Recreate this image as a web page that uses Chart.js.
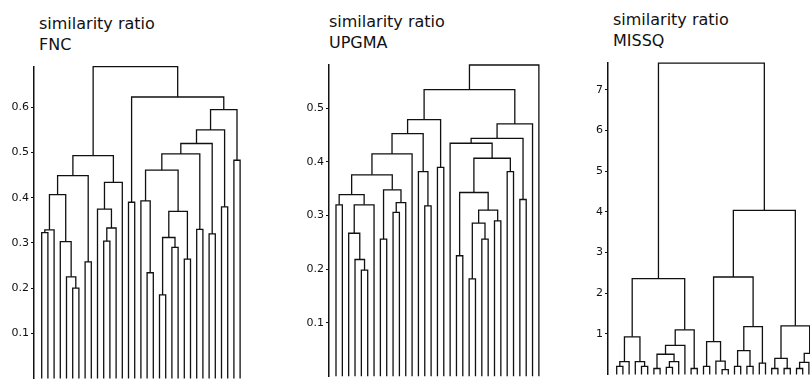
<!DOCTYPE html>
<html>
<head>
<meta charset="utf-8">
<script src="https://cdn.jsdelivr.net/npm/chart.js@4.4.0/dist/chart.umd.min.js"></script>
<style>
    html, body { margin: 0; padding: 0; background: #fff; overflow: hidden; }
    #page { position: relative; width: 810px; height: 383px; overflow: hidden; }
    #page canvas { position: absolute; top: 0; }
    .title { position: absolute; font: 16px 'DejaVu Sans', sans-serif; line-height: 21px; color: #111; white-space: nowrap; }
</style>
</head>
<body>
<div id="page"></div>
<script>
// leaves are numbered 0..32 left to right, merge k creates node 33 + k
const LEAF_COUNT = 33;

const fncPairs = [[0,1],[33,2],[5,6],[4,35],[3,36],[34,37],[7,8],[38,39],
    [10,11],[41,12],[9,42],[43,13],[40,44],[14,15],[17,18],[16,47],
    [19,20],[21,22],[49,50],[23,24],[51,52],[48,53],[25,26],[54,55],
    [27,28],[56,57],[29,30],[58,59],[31,32],[60,61],[46,62],[45,63]];
const fncHeights = [0.323,0.329,0.2,0.225,0.303,0.407,0.258,0.449,
    0.304,0.333,0.375,0.434,0.493,0.39,0.234,0.393,
    0.185,0.29,0.312,0.264,0.37,0.461,0.33,0.497,
    0.32,0.52,0.38,0.55,0.483,0.595,0.623,0.69];
const fncTicks = [0.1, 0.2, 0.3, 0.4, 0.5, 0.6];

const upgmaPairs = [[0,1],[4,5],[3,34],[2,35],[36,6],[33,37],[7,8],[9,10],
    [40,11],[39,41],[38,42],[43,12],[14,15],[13,45],[44,46],[16,17],
    [47,48],[21,22],[23,24],[50,51],[25,26],[52,53],[19,20],[55,54],
    [27,28],[56,57],[18,58],[29,30],[59,60],[61,31],[49,62],[63,32]];
const upgmaHeights = [0.32,0.198,0.218,0.267,0.32,0.339,0.256,0.306,
    0.324,0.348,0.376,0.415,0.318,0.382,0.453,0.39,
    0.479,0.182,0.256,0.286,0.29,0.31,0.225,0.343,
    0.382,0.407,0.435,0.33,0.444,0.471,0.535,0.581];
const upgmaTicks = [0.1, 0.2, 0.3, 0.4, 0.5];

const missqPairs = [[0,1],[33,2],[4,5],[3,35],[34,36],[6,7],[8,9],[39,10],
    [38,40],[41,11],[12,13],[42,43],[37,44],[14,15],[17,18],[16,47],
    [46,48],[19,20],[21,22],[50,51],[23,24],[52,53],[49,54],[25,26],
    [27,28],[56,57],[29,30],[59,31],[60,32],[58,61],[55,62],[45,63]];
const missqHeights = [0.2,0.32,0.2,0.32,0.93,0.15,0.18,0.32,
    0.5,0.72,0.15,1.1,2.36,0.2,0.12,0.33,
    0.81,0.2,0.2,0.59,0.28,1.18,2.4,0.15,
    0.15,0.4,0.15,0.3,0.52,1.2,4.04,7.66];
const missqTicks = [1, 2, 3, 4, 5, 6, 7];

const titles = [['similarity ratio', 'FNC'], ['similarity ratio', 'UPGMA'], ['similarity ratio', 'MISSQ']];

// page geometry of each panel (pixels)
const panels = [
    { pairs: fncPairs, heights: fncHeights, ticks: fncTicks, title: titles[0], decimals: 1,
      left: 0, width: 252, axisW: 34, firstLeaf: 41.7, step: 6.2, top: 66.7, zero: 378.5,
      titleLeft: 39, titleTop: 13 },
    { pairs: upgmaPairs, heights: upgmaHeights, ticks: upgmaTicks, title: titles[1], decimals: 1,
      left: 295, width: 255, axisW: 34, firstLeaf: 336, step: 6.34, top: 65, zero: 376.3,
      titleLeft: 329, titleTop: 10.5 },
    { pairs: missqPairs, heights: missqHeights, ticks: missqTicks, title: titles[2], decimals: 0,
      left: 574, width: 262, axisW: 34, firstLeaf: 616.7, step: 6.2, top: 63.1, zero: 374.6,
      titleLeft: 613, titleTop: 9 }
];
const CANVAS_H = 395;

function dendrogramSegments(pairs, heights, leafCount) {
    const xs = [], ys = [];
    for (let i = 0; i < leafCount; i++) {
        xs.push(i);
        ys.push(0);
    }
    return pairs.map((pair, k) => {
        const a = pair[0], b = pair[1], h = heights[k];
        xs.push((xs[a] + xs[b]) / 2);
        ys.push(h);
        return [
            { x: xs[a], y: ys[a] },
            { x: xs[a], y: h },
            { x: xs[b], y: h },
            { x: xs[b], y: ys[b] }
        ];
    });
}

const page = document.getElementById('page');

panels.forEach(panel => {
    const title = document.createElement('div');
    title.className = 'title';
    title.style.left = panel.titleLeft + 'px';
    title.style.top = panel.titleTop + 'px';
    title.innerHTML = panel.title.join('<br>');
    page.appendChild(title);

    const canvas = document.createElement('canvas');
    canvas.setAttribute('width', panel.width);
    canvas.setAttribute('height', CANVAS_H);
    canvas.style.left = panel.left + 'px';
    page.appendChild(canvas);

    const yMax = panel.heights[panel.heights.length - 1];
    const xMin = -(panel.firstLeaf - panel.left - panel.axisW) / panel.step;
    const xMax = xMin + (panel.width - panel.axisW) / panel.step;

    const segments = dendrogramSegments(panel.pairs, panel.heights, LEAF_COUNT);

    new Chart(canvas.getContext('2d'), {
        type: 'scatter',
        data: {
            datasets: segments.map(seg => ({
                data: seg,
                showLine: true,
                borderColor: '#111',
                borderWidth: 1.3,
                pointRadius: 0,
                fill: false,
                clip: false
            }))
        },
        options: {
            responsive: false,
            animation: false,
            events: [],
            layout: {
                padding: { left: 0, right: 0, top: panel.top, bottom: CANVAS_H - panel.zero }
            },
            plugins: {
                legend: { display: false },
                tooltip: { enabled: false }
            },
            scales: {
                x: {
                    type: 'linear',
                    display: false,
                    min: xMin,
                    max: xMax
                },
                y: {
                    type: 'linear',
                    min: 0,
                    max: yMax,
                    afterFit: scale => { scale.width = panel.axisW; },
                    afterBuildTicks: scale => { scale.ticks = panel.ticks.map(v => ({ value: v })); },
                    ticks: {
                        color: '#111',
                        padding: 2,
                        font: { family: 'DejaVu Sans', size: 11 },
                        callback: v => v.toFixed(panel.decimals)
                    },
                    grid: {
                        drawOnChartArea: false,
                        tickLength: 3,
                        color: '#111',
                        lineWidth: 1
                    },
                    border: { color: '#111', width: 1.5 }
                }
            }
        }
    });
});
</script>
</body>
</html>
